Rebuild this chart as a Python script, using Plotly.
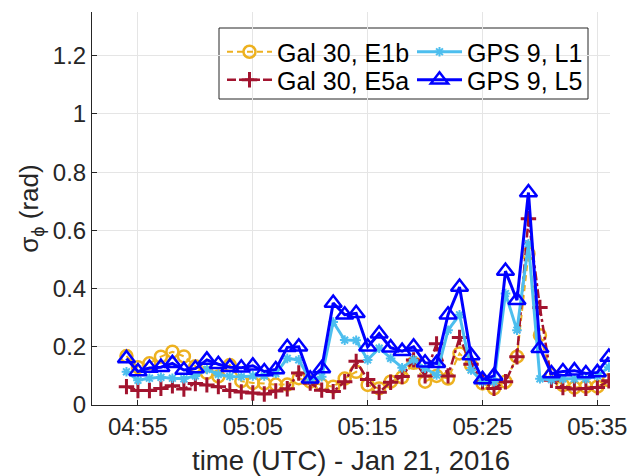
import plotly.graph_objects as go

date = "2016-01-21 "
clock = ["04:54", "04:55", "04:56", "04:57", "04:58", "04:59", "05:00", "05:01", "05:02", "05:03",
         "05:04", "05:05", "05:06", "05:07", "05:08", "05:09", "05:10", "05:11", "05:12", "05:13",
         "05:14", "05:15", "05:16", "05:17", "05:18", "05:19", "05:20", "05:21", "05:22", "05:23",
         "05:24", "05:25", "05:26", "05:27", "05:28", "05:29", "05:30", "05:31", "05:32", "05:33",
         "05:34", "05:35", "05:36"]
times = [date + c for c in clock]

gal_e1b = [0.168, 0.130, 0.143, 0.166, 0.183, 0.167, 0.133, 0.110, 0.098, 0.137,
           0.082, 0.076, 0.074, 0.070, 0.070, 0.092, 0.080, 0.069, 0.063, 0.091,
           0.114, 0.069, 0.057, 0.080, 0.095, 0.145, 0.080, 0.100, 0.091, 0.177,
           0.137, 0.074, 0.057, 0.080, 0.166, 0.520, 0.240, 0.103, 0.068, 0.060,
           0.063, 0.063, 0.085]
gal_e5a = [0.063, 0.050, 0.050, 0.057, 0.066, 0.055, 0.074, 0.069, 0.063, 0.050,
           0.045, 0.041, 0.038, 0.048, 0.056, 0.110, 0.075, 0.051, 0.046, 0.080,
           0.150, 0.088, 0.044, 0.078, 0.098, 0.155, 0.100, 0.210, 0.100, 0.232,
           0.140, 0.080, 0.057, 0.080, 0.166, 0.640, 0.335, 0.085, 0.060, 0.055,
           0.057, 0.060, 0.083]
gps_l1 = [0.114, 0.085, 0.092, 0.095, 0.092, 0.090, 0.100, 0.122, 0.105, 0.098,
          0.097, 0.100, 0.100, 0.108, 0.160, 0.155, 0.087, 0.097, 0.285, 0.223,
          0.222, 0.155, 0.195, 0.160, 0.128, 0.155, 0.126, 0.103, 0.257, 0.310,
          0.120, 0.080, 0.080, 0.383, 0.257, 0.554, 0.090, 0.087, 0.090, 0.090,
          0.090, 0.100, 0.130]
gps_l5 = [0.160, 0.115, 0.127, 0.130, 0.143, 0.120, 0.125, 0.155, 0.140, 0.130,
          0.128, 0.135, 0.115, 0.122, 0.198, 0.200, 0.090, 0.125, 0.350, 0.310,
          0.315, 0.200, 0.245, 0.197, 0.185, 0.200, 0.145, 0.143, 0.310, 0.405,
          0.170, 0.088, 0.100, 0.460, 0.360, 0.730, 0.195, 0.108, 0.115, 0.118,
          0.108, 0.112, 0.165]

x_ticks = [date + t for t in ["04:55", "05:05", "05:15", "05:25", "05:35"]]
x_tick_text = ["04:55", "05:05", "05:15", "05:25", "05:35"]
y_ticks = [0, 0.2, 0.4, 0.6, 0.8, 1.0, 1.2]
y_tick_text = ["0", "0.2", "0.4", "0.6", "0.8", "1", "1.2"]

FONT = "Liberation Sans, Arial, Helvetica, sans-serif"
INK = "#262626"

fig = go.Figure()
fig.add_trace(go.Scatter(
    x=times, y=gal_e1b, name="Gal 30, E1b", mode="lines+markers", legend="legend",
    line=dict(color="#EDB120", width=2, dash="6px,4px"),
    marker=dict(symbol="circle-open", size=12, color="#EDB120", line=dict(width=2.5, color="#EDB120"))))
fig.add_trace(go.Scatter(
    x=times, y=gal_e5a, name="Gal 30, E5a", mode="lines+markers", legend="legend2",
    line=dict(color="#A2142F", width=2.5, dash="dashdot"),
    marker=dict(symbol="cross-thin-open", size=11, color="#A2142F", line=dict(width=3, color="#A2142F"))))
fig.add_trace(go.Scatter(
    x=times, y=gps_l1, name="GPS 9, L1", mode="lines+markers", legend="legend3",
    line=dict(color="#4DBEEE", width=3),
    marker=dict(symbol="asterisk-open", size=8, color="#4DBEEE", line=dict(width=2, color="#4DBEEE"))))
fig.add_trace(go.Scatter(
    x=times, y=gps_l5, name="GPS 9, L5", mode="lines+markers", legend="legend4",
    line=dict(color="#0000FF", width=3),
    marker=dict(symbol="triangle-up-open", size=15, color="#0000FF", line=dict(width=2.5, color="#0000FF"))))

L, R, T, B = 92, 19, 12, 71
W, H = 629, 476
pw, ph = W - L - R, H - T - B

def px_x(px):
    return (px - L) / pw

def px_y(py):
    return (H - B - py) / ph

legend_common = dict(
    font=dict(family=FONT, size=25, color="black"),
    bgcolor="rgba(0,0,0,0)", borderwidth=0, orientation="v",
    xanchor="left", yanchor="middle", tracegroupgap=0, itemwidth=45,
    visible=True,
)

fig.update_layout(
    width=W, height=H,
    showlegend=True,
    margin=dict(l=L, r=R, t=T, b=B, autoexpand=False),
    paper_bgcolor="white", plot_bgcolor="white",
    font=dict(family=FONT, size=24, color=INK),
    legend=dict(x=px_x(222), y=px_y(52), **legend_common),
    legend2=dict(x=px_x(222), y=px_y(80), **legend_common),
    legend3=dict(x=px_x(412), y=px_y(52), **legend_common),
    legend4=dict(x=px_x(412), y=px_y(80), **legend_common),
    shapes=[dict(type="rect", xref="paper", yref="paper",
                 x0=px_x(219), x1=px_x(588), y0=px_y(99), y1=px_y(28),
                 line=dict(color="#262626", width=1), fillcolor="white", layer="below")],
    xaxis=dict(
        type="date", range=[date + "04:51", date + "05:36:06"],
        tickvals=x_ticks, ticktext=x_tick_text,
        showgrid=True, gridcolor="#e5e5e5", gridwidth=1,
        showline=True, linecolor=INK, linewidth=1, mirror=False,
        ticks="inside", ticklen=5, tickcolor=INK,
        tickfont=dict(family=FONT, size=24, color=INK),
        title=dict(text="time (UTC) - Jan 21, 2016", font=dict(family=FONT, size=27.5, color=INK), standoff=12),
        zeroline=False, automargin=False,
    ),
    yaxis=dict(
        range=[0, 1.35], tickvals=y_ticks, ticktext=y_tick_text,
        showgrid=True, gridcolor="#e5e5e5", gridwidth=1,
        showline=True, linecolor=INK, linewidth=1, mirror=False,
        ticks="inside", ticklen=5, tickcolor=INK,
        tickfont=dict(family=FONT, size=24, color=INK),
        title=dict(text="σ<sub>ϕ</sub> (rad)", font=dict(family=FONT, size=26, color=INK), standoff=6),
        zeroline=False, automargin=False,
    ),
)

fig.write_html("out.html", config={"displayModeBar": False},
               post_script="document.body.style.margin='0';document.body.style.overflow='hidden';")
